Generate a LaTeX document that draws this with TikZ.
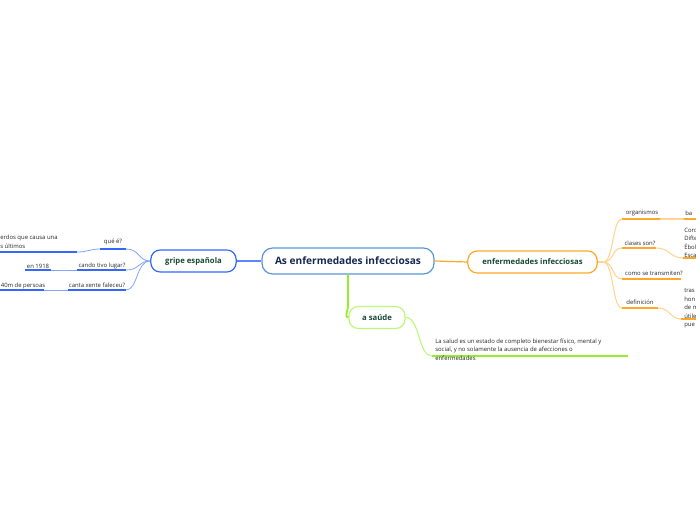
\documentclass[tikz,border=0pt]{standalone}
\usepackage{fontspec}
\setmainfont{Open Sans}
\definecolor{rootblue}{RGB}{88,150,215}
\definecolor{gripeblue}{RGB}{52,104,250}
\definecolor{paleblue}{RGB}{130,165,250}
\definecolor{orangeline}{RGB}{255,168,40}
\definecolor{paleorange}{RGB}{255,212,150}
\definecolor{greenline}{RGB}{150,238,40}
\definecolor{palegreen}{RGB}{190,248,120}
\definecolor{darkgreen}{RGB}{22,72,52}
\definecolor{navy}{RGB}{22,40,82}

\begin{document}
\begin{tikzpicture}[
    x=0.75pt, y=-0.75pt,
    font=\fontsize{4.45}{6.4}\selectfont,
    rootbox/.style={draw=rootblue, line width=0.9pt, rounded corners=8pt, fill=white,
      minimum width=129pt, minimum height=19.5pt, text=navy,
      font=\fontsize{7.6}{8}\selectfont\bfseries},
    topicbox/.style={draw=#1, line width=0.9pt, rounded corners=7pt, fill=white,
      minimum height=16.5pt, text=darkgreen,
      font=\fontsize{5.8}{7}\selectfont\bfseries},
    leaf/.style={inner sep=0pt, text=black!85, align=left},
    bunder/.style={draw=gripeblue, line width=1.5pt},
    blink/.style={draw=paleblue, line width=0.6pt},
    ounder/.style={draw=orangeline, line width=1.5pt},
    olink/.style={draw=paleorange, line width=0.8pt},
    gunder/.style={draw=greenline, line width=1.5pt},
    glink/.style={draw=palegreen, line width=0.8pt},
  ]
  \useasboundingbox (0,0) rectangle (696,520);
  \clip (0,0) rectangle (696,520);

  % ---- nodo central ----
  \node[rootbox] (root) at (348,261) {As enfermedades infecciosas};

  % ---- gripe española ----
  \node[topicbox=gripeblue, minimum width=64pt] (gripe) at (193.5,261) {gripe española};
  \draw[draw=gripeblue!80, line width=0.9pt] (gripe.east) -- (root.west);

  \coordinate (que-a) at (100,249);  \coordinate (que-b) at (126,249);
  \coordinate (rec-a) at (-2,252);   \coordinate (rec-b) at (77,252);
  \coordinate (can-a) at (77,270);   \coordinate (can-b) at (126,270);
  \coordinate (ano-a) at (25,270);   \coordinate (ano-b) at (51,270);
  \coordinate (fal-a) at (68,290);   \coordinate (fal-b) at (126,290);
  \coordinate (mor-a) at (-2,290);   \coordinate (mor-b) at (44,290);
  \foreach \p in {que, rec, can, ano, fal, mor}
    \draw[bunder] (\p-a) -- (\p-b);
  \node[leaf] (que) at (113,242) {qué é?};
  \node[leaf, anchor=west] (rec) at (0,242) {erdos que causa una\\s últimos};
  \node[leaf] (can) at (102,266) {cando tivo lugar?};
  \node[leaf] (ano) at (38,266) {en 1918};
  \node[leaf] (fal) at (97,285.5) {canta xente faleceu?};
  \node[leaf] (mor) at (23,285.5) {40m de persoas};

  \draw[blink] (gripe.west) .. controls (138,261) and (140,249) .. (que-b);
  \draw[blink] (gripe.west) .. controls (138,261) and (140,270) .. (can-b);
  \draw[blink] (gripe.west) .. controls (136,261) and (138,290) .. (fal-b);
  \draw[blink] (que-a) .. controls (90,249) and (88,252) .. (rec-b);
  \draw[blink] (ano-b) -- (can-a);
  \draw[blink] (mor-b) -- (fal-a);

  % ---- enfermedades infecciosas ----
  \node[topicbox=orangeline, minimum width=97pt] (enferm) at (532.5,262) {enfermedades infecciosas};
  \draw[draw=orangeline, line width=0.9pt] (root.east) -- (enferm.west);
  \coordinate (efork) at (603,262);
  \draw[olink] (enferm.east) -- (efork);

  \coordinate (org-a) at (622,219);  \coordinate (org-b) at (660,219);
  \coordinate (bac-a) at (684,219);  \coordinate (bac-b) at (698,219);
  \coordinate (cla-a) at (622,248);  \coordinate (cla-b) at (656,248);
  \coordinate (lis-a) at (683,258);  \coordinate (lis-b) at (698,258);
  \coordinate (tra-a) at (622,279);  \coordinate (tra-b) at (681,279);
  \coordinate (def-a) at (622,308);  \coordinate (def-b) at (658,308);
  \coordinate (txt-a) at (681,319);  \coordinate (txt-b) at (698,319);
  \foreach \p in {org, bac, cla, lis, tra, def, txt}
    \draw[ounder] (\p-a) -- (\p-b);
  \node[leaf] (org) at (642,213) {organismos};
  \node[leaf, anchor=west] (bac) at (685,213) {ba};
  \node[leaf] (cla) at (640,243) {clases son?};
  \node[leaf, anchor=west] (lis) at (684,243) {Coro\\Difte\\Ébol\\Esca};
  \node[leaf] (tra) at (654,273) {como se transmiten?};
  \node[leaf] (def) at (640,302) {definición};
  \node[leaf, anchor=west] (txt) at (684,308.5) {tras\\hon\\de m\\útile\\pue};

  \draw[olink] (efork) .. controls (614,262) and (612,219) .. (org-a);
  \draw[olink] (efork) .. controls (614,262) and (612,248) .. (cla-a);
  \draw[olink] (efork) .. controls (614,262) and (612,279) .. (tra-a);
  \draw[olink] (efork) .. controls (614,262) and (612,308) .. (def-a);
  \draw[olink] (org-b) -- (bac-a);
  \draw[olink] (cla-b) .. controls (670,248) and (670,258) .. (lis-a);
  \draw[olink] (def-b) .. controls (670,308) and (670,319) .. (txt-a);

  % ---- a saúde ----
  \node[topicbox=palegreen, minimum width=42pt] (saude) at (377,317.5) {a saúde};
  \draw[draw=greenline, line width=1.4pt] (root.south) -- (348,306) to[out=-90, in=180] (saude.west);
  \coordinate (sal-a) at (432,356);  \coordinate (sal-b) at (628,356);
  \draw[gunder] (sal-a) -- (sal-b);
  \node[leaf, anchor=west] (sal) at (435,349.5)
    {La salud es un estado de completo bienestar físico, mental y\\
     social, y no solamente la ausencia de afecciones o\\
     enfermedades};
  \draw[glink] (saude.east) .. controls (420,317) and (418,356) .. (sal-a);
\end{tikzpicture}
\end{document}
